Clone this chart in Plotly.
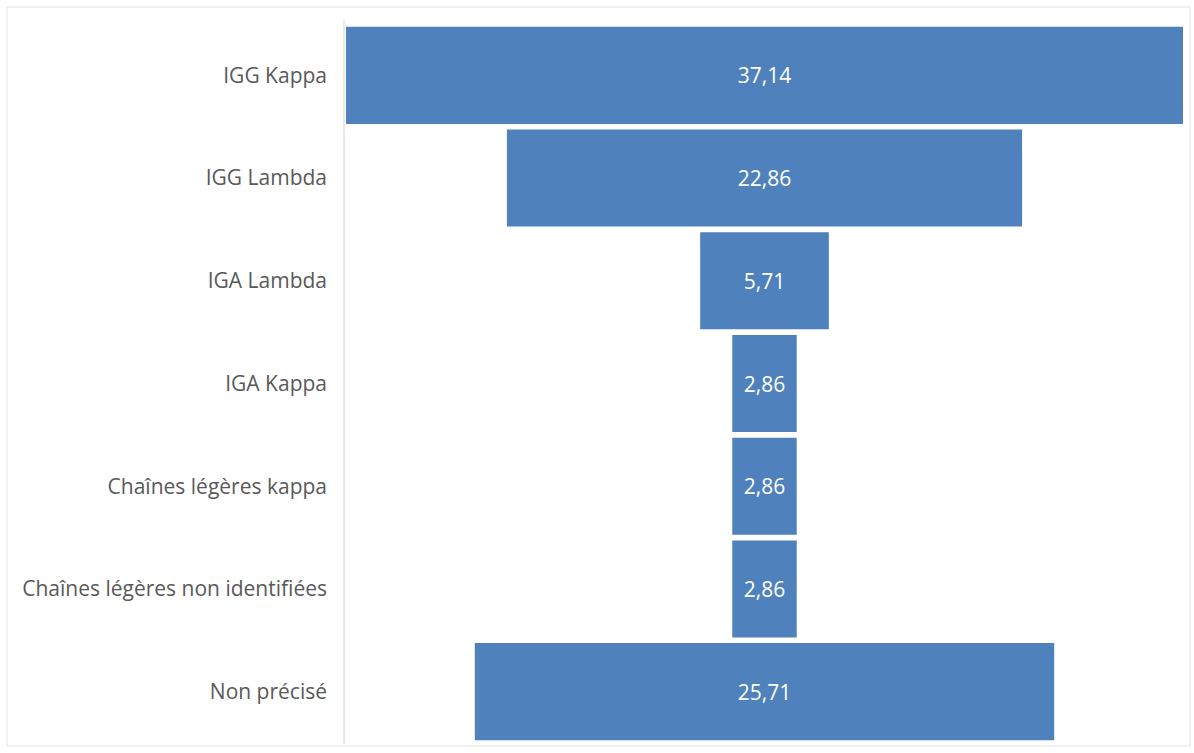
import plotly.graph_objects as go

categories = [
    "IGG Kappa",
    "IGG Lambda",
    "IGA Lambda",
    "IGA Kappa",
    "Chaînes légères kappa",
    "Chaînes légères non identifiées",
    "Non précisé",
]
values = [37.14, 22.86, 5.71, 2.86, 2.86, 2.86, 25.71]

W, H = 1194, 753
left, right, top, bottom = 346, 11, 24, 10
plot_w = W - left - right
plot_h = H - top - bottom

fig = go.Figure(
    go.Funnel(
        y=categories,
        x=values,
        marker=dict(color="#4F81BD"),
        connector=dict(visible=False),
        texttemplate="%{x:.2f}",
        textposition="inside",
        insidetextanchor="middle",
        textfont=dict(color="white", size=21, family="Open Sans"),
        hoverinfo="skip",
    )
)

half = max(values) / 2

def px_x(px):
    return (px - left) / plot_w

def px_y(py):
    return 1 - (py - top) / plot_h

fig.update_layout(
    width=W,
    height=H,
    margin=dict(l=left, r=right, t=top, b=bottom),
    paper_bgcolor="white",
    plot_bgcolor="white",
    separators=", ",
    funnelgap=0.055,
    showlegend=False,
    xaxis=dict(visible=False, range=[-half, half], fixedrange=True),
    yaxis=dict(
        autorange="reversed",
        showline=False,
        showgrid=False,
        ticks="",
        ticklabelstandoff=18,
        tickfont=dict(family="Open Sans", size=21, color="#595959"),
    ),
    shapes=[
        # chart frame
        dict(type="rect", xref="paper", yref="paper",
             x0=px_x(7), x1=px_x(1190), y0=px_y(746), y1=px_y(7),
             line=dict(color="#E3E3E3", width=1), fillcolor="rgba(0,0,0,0)",
             layer="below"),
        # category axis line
        dict(type="line", xref="paper", yref="paper",
             x0=px_x(344), x1=px_x(344), y0=px_y(744), y1=px_y(20),
             line=dict(color="#D0D0D0", width=1), layer="below"),
    ],
)

fig.write_html("out.html")
